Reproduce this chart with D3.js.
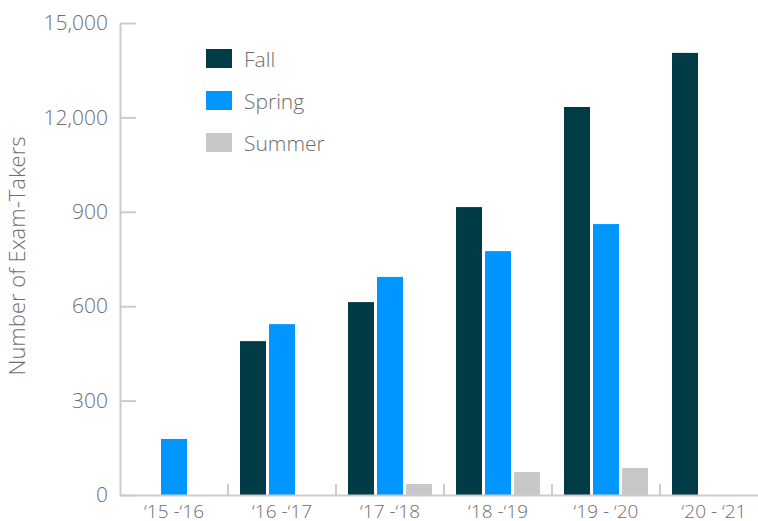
<!doctype html>
<html>
<head>
<meta charset="utf-8">
<title>Number of Exam-Takers</title>
<script src="https://cdn.jsdelivr.net/npm/d3@7"></script>
<style>
    body { margin: 0; background: #fff; }
    svg { display: block; font-family: "Open Sans", sans-serif; font-weight: 300; }
    .axis text { fill: #6e6e6e; font-family: "Open Sans", sans-serif; font-weight: 300; }
    .axis path, .axis line { stroke: #cccccc; stroke-width: 2px; }
</style>
</head>
<body>
<svg id="chart" width="758" height="521"></svg>
<script>
// data
var years = ["‘15 -‘16", "‘16 -‘17", "‘17 -‘18", "‘18 -‘19", "‘19 - ‘20", "‘20 - ‘21"];
var seasons = ["Fall", "Spring", "Summer"];
var fall   = [0, 489, 613, 915, 1233, 1405];
var spring = [178, 543, 693, 775, 861, 0];
var summer = [0, 0, 35, 73, 86, 0];
var yTicks = [0, 300, 600, 900, 1200, 1500];
var yTickLabels = ["0", "300", "600", "900", "12,000", "15,000"];
var colors = ["#003b46", "#0096ff", "#c8c8c8"];

var values = { Fall: fall, Spring: spring, Summer: summer };

var svg = d3.select("#chart");

var x = d3.scaleBand().domain(years).range([120, 768]);
var xs = d3.scaleBand().domain(seasons).range([-42, 42]).paddingInner(3 / 29);
var y = d3.scaleLinear().domain([0, 1500]).range([495, 23]);
var color = d3.scaleOrdinal().domain(seasons).range(colors);

// bars
seasons.forEach(function (s) {
    var rows = years.map(function (yr, i) { return { year: yr, v: values[s][i] }; })
        .filter(function (d) { return d.v > 0; });
    svg.append("g").selectAll("rect").data(rows).enter().append("rect")
        .attr("x", function (d) { return x(d.year) + x.bandwidth() / 2 + xs(s); })
        .attr("width", xs.bandwidth())
        .attr("y", function (d) { return y(d.v); })
        .attr("height", function (d) { return y(0) - y(d.v); })
        .attr("fill", color(s));
});

// y axis, ticks pointing into the plot
var yAxis = svg.append("g").attr("class", "axis").attr("transform", "translate(120,0)")
    .call(d3.axisLeft(y).tickValues(yTicks).tickSize(-16).tickSizeOuter(0).tickPadding(12)
        .tickFormat(function (d, i) { return yTickLabels[i]; }));
yAxis.attr("font-family", null);
yAxis.selectAll("text").style("font-size", "21px");

// x axis, labels only, separators between groups
var xAxis = svg.append("g").attr("class", "axis").attr("transform", "translate(0,495)")
    .call(d3.axisBottom(x).tickSize(0).tickSizeOuter(0).tickPadding(10));
xAxis.attr("font-family", null);
xAxis.selectAll("text").style("font-size", "19px");
xAxis.selectAll(".sep").data(years.slice(1)).enter().append("line")
    .attr("class", "sep")
    .attr("x1", function (d) { return x(d); }).attr("x2", function (d) { return x(d); })
    .attr("y1", 0).attr("y2", -11);

// axis title
svg.append("text")
    .attr("transform", "translate(25,256) rotate(-90)")
    .attr("text-anchor", "middle")
    .style("font-size", "22px")
    .style("fill", "#6e6e6e")
    .text("Number of Exam-Takers");

// legend
var legend = svg.append("g").selectAll("g").data(seasons).enter().append("g")
    .attr("transform", function (d, i) { return "translate(206," + (49 + i * 42) + ")"; });
legend.append("rect").attr("width", 26).attr("height", 19).attr("fill", function (d) { return color(d); });
legend.append("text").attr("x", 38).attr("y", 18)
    .style("font-size", "21px").style("fill", "#6e6e6e")
    .text(function (d) { return d; });
</script>
</body>
</html>
